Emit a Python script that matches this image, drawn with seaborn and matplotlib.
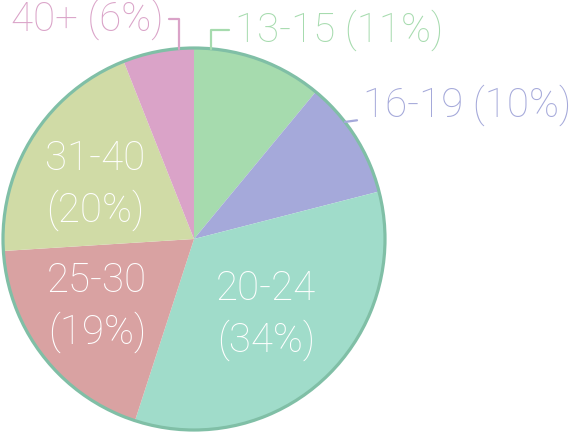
import numpy as np
import matplotlib
matplotlib.use("Agg")
import matplotlib.pyplot as plt
import seaborn as sns

# age groups and shares (%)
groups = ['13-15', '16-19', '20-24', '25-30', '31-40', '40+']
shares = [11, 10, 34, 19, 20, 6]
colors = ['#a6dbae', '#a5a9da', '#a0dcca', '#d9a2a2', '#d0dba6', '#daa3c8']

sns.set_style('white')
plt.rcParams['font.family'] = ['Roboto', 'DejaVu Sans']

W, H = 572, 436
cx, cy, R = 194, 239, 191   # pie centre / radius in px

fig = plt.figure(figsize=(W / 100, H / 100), dpi=100)
ax = fig.add_axes([0, 0, 1, 1])

wedges, _ = ax.pie(shares, colors=colors, startangle=90, counterclock=False,
                   wedgeprops=dict(linewidth=0))
# outer ring
ax.pie([1], colors=['none'], wedgeprops=dict(edgecolor='#80bfa6', linewidth=2.3, fill=False))

ax.set_xlim(-cx / R, (W - cx) / R)
ax.set_ylim(-(H - cy) / R, cy / R)
ax.set_aspect('equal')
ax.axis('off')

fs = 29
# labels inside the big slices: radius, angle shift from slice middle
inside = {'20-24': (0.55, 0.0), '25-30': (0.62, -2.6), '31-40': (0.59, 3.8)}
for w, g, s in zip(wedges, groups, shares):
    if g in inside:
        r, d = inside[g]
        mid = np.deg2rad((w.theta1 + w.theta2) / 2 + d)
        ax.text(r * np.cos(mid), r * np.sin(mid), f'{g}\n({s}%)', color='white',
                fontsize=fs, fontweight='light', ha='center', va='center', linespacing=1.35)

# outside labels with leader lines
outside = {
    '13-15': dict(ang=85.0, xyt=(0.215, 1.095), ha='left', conn='angle,angleA=0,angleB=90,rad=0'),
    '16-19': dict(ang=37.8, xyt=(0.885, 0.70), ha='left', conn='arc3,rad=0'),
    '40+': dict(ang=94.5, xyt=(-0.16, 1.15), ha='right', conn='angle,angleA=0,angleB=90,rad=0'),
}
for g, s, c in zip(groups, shares, colors):
    if g not in outside:
        continue
    o = outside[g]
    a = np.deg2rad(o['ang'])
    ax.annotate(f'{g} ({s}%)', xy=(np.cos(a), np.sin(a)), xytext=o['xyt'],
                color=c, fontsize=fs, fontweight='light', ha=o['ha'], va='center',
                annotation_clip=False,
                arrowprops=dict(arrowstyle='-', color=c, lw=1.6, shrinkA=2, shrinkB=0,
                                connectionstyle=o['conn']))

fig.savefig('out.png', dpi=100)
